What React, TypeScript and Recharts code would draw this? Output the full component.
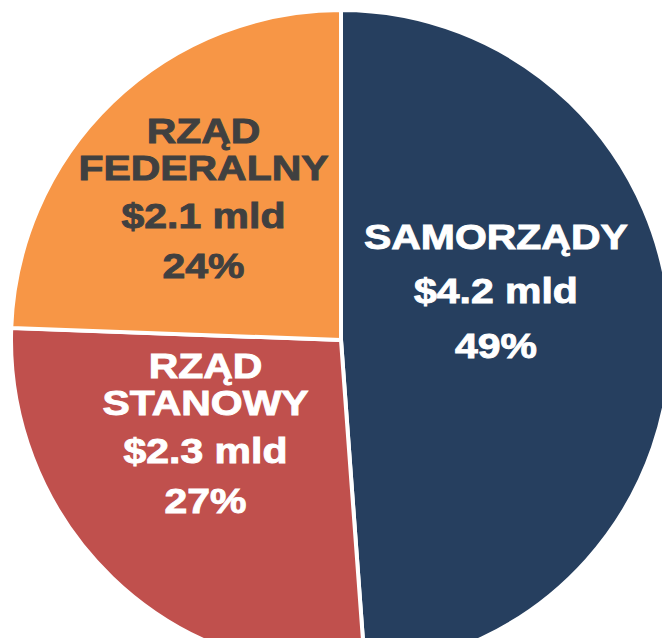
import { PieChart, Pie, Cell } from 'recharts'

const categories = ['SAMORZĄDY', 'RZĄD STANOWY', 'RZĄD FEDERALNY']
const nameLines = [['SAMORZĄDY'], ['RZĄD', 'STANOWY'], ['RZĄD', 'FEDERALNY']]
const values = [4.2, 2.3, 2.1]
const colors = ['#263F5F', '#C0504D', '#F79646']
const textColors = ['#FFFFFF', '#FFFFFF', '#404040']
// nudges so each text block sits where the original put it
const labelNudge = [[-10, -43], [-21, -26], [-23, -23]]

const total = values.reduce((a, b) => a + b, 0)
const data = categories.map((name, i) => ({ name, value: values[i] }))

const RAD = Math.PI / 180

function SliceLabel(props: any) {
  const { cx, cy, midAngle, outerRadius, index } = props
  const r = outerRadius * 0.5
  const x = cx + r * Math.cos(-midAngle * RAD) + labelNudge[index][0]
  const yc = cy + r * Math.sin(-midAngle * RAD) + labelNudge[index][1]
  const names = nameLines[index]
  const lines = [...names, `$${values[index].toFixed(1)} mld`, `${Math.round((values[index] / total) * 100)}%`]

  const single = names.length === 1
  const offs: number[] = []
  let y = 0
  names.forEach(() => {
    offs.push(y)
    y += 37
  })
  y = y - 37 + (single ? 54 : 48)
  offs.push(y)
  y += single ? 55 : 50
  offs.push(y)
  const top = offs[0] - 25
  const bottom = offs[offs.length - 1]
  const shift = yc - (top + bottom) / 2

  return (
    <g transform={`translate(${x},${shift}) scale(1.17,1)`}>
      {lines.map((t, j) => (
        <text
          key={j}
          x={0}
          y={offs[j]}
          textAnchor="middle"
          fill={textColors[index]}
          stroke={textColors[index]}
          strokeWidth={0.9}
          fontSize={35}
          fontWeight="bold"
          fontFamily="'Liberation Sans', Arial, sans-serif"
        >
          {t}
        </text>
      ))}
    </g>
  )
}

export default function App() {
  return (
    <div style={{ position: 'absolute', left: 0, top: 0, width: 662, height: 638, background: '#fff' }}>
      <PieChart width={662} height={638}>
        <Pie
          data={data}
          dataKey="value"
          nameKey="name"
          cx={336}
          cy={335}
          outerRadius={330}
          startAngle={90}
          endAngle={-270}
          stroke="#FFFFFF"
          strokeWidth={4}
          label={SliceLabel}
          labelLine={false}
          isAnimationActive={false}
        >
          {data.map((d, i) => (
            <Cell key={d.name} fill={colors[i]} />
          ))}
        </Pie>
      </PieChart>
    </div>
  )
}
